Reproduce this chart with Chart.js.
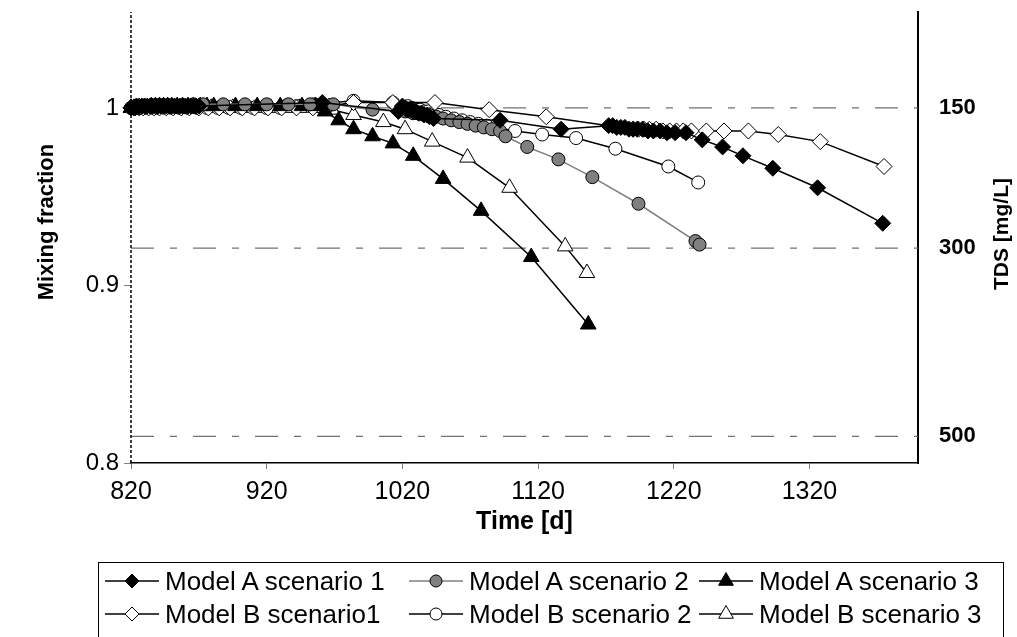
<!DOCTYPE html>
<html>
<head>
<meta charset="utf-8">
<script src="https://cdn.jsdelivr.net/npm/chart.js@4.4.1/dist/chart.umd.min.js"></script>
<style>
  body { margin: 0; background: #fff; }
  #wrap { position: relative; width: 1017px; height: 637px; overflow: hidden; }
  #legend { position: absolute; left: 98px; top: 562px; width: 906px; height: 100px;
            border: 1px solid #000; box-sizing: border-box;
            font-family: "Liberation Sans", Arial, sans-serif; font-size: 26px; color: #000; }
  .item { position: absolute; height: 30px; display: flex; align-items: center; white-space: nowrap; }
  .item svg { margin-right: 6px; }
</style>
</head>
<body>
<div id="wrap">
  <canvas id="chart" width="1017" height="637"></canvas>
  <div id="legend"></div>
</div>
<script>
// --- data ---
const xTickValues = [820, 920, 1020, 1120, 1220, 1320];
const yTickValues = [0.8, 0.9, 1];
const tdsLevels = [150, 300, 500];
const tdsFractions = [1.0, 0.921, 0.815];

const a1Days = [820, 822, 824, 826, 828, 830, 832, 834, 836, 838, 840, 842, 844, 846, 848, 850, 852, 854, 856, 858, 860, 862, 864, 866, 868, 870,
  961, 1017, 1020, 1022, 1024, 1026, 1028, 1030, 1032, 1034, 1036, 1038, 1040, 1043, 1092, 1137,
  1172, 1175, 1178, 1181, 1184, 1187, 1190, 1193, 1197, 1201, 1205, 1210, 1215, 1221, 1229, 1241, 1256, 1271, 1293, 1326, 1374];
const a1Mix = [1, 1, 1.001, 1.001, 1.001, 1.001, 1.001, 1.001, 1.001, 1.001, 1.001, 1.001, 1.001, 1.001, 1.001, 1.001, 1.001, 1.001, 1.001, 1.001, 1.001, 1.001, 1.001, 1.001, 1.001, 1.001,
  1.003, 0.998, 1.001, 1.000, 0.999, 0.999, 0.998, 0.998, 0.997, 0.997, 0.996, 0.996, 0.995, 0.994, 0.993, 0.988,
  0.990, 0.990, 0.989, 0.989, 0.989, 0.988, 0.988, 0.988, 0.988, 0.987, 0.987, 0.987, 0.986, 0.986, 0.986, 0.982, 0.978, 0.973, 0.966, 0.955, 0.935];

const a2Days = [820, 823, 826, 829, 832, 835, 838, 841, 844, 848, 852, 856, 860, 866, 873, 888, 904, 920, 936, 952, 969, 998,
  1022, 1025, 1028, 1031, 1034, 1037, 1040, 1045, 1050, 1056, 1062, 1068, 1074, 1080, 1086, 1092, 1096, 1112, 1135, 1160, 1194, 1236, 1239];
const a2Mix = [1, 1, 1, 1.001, 1.001, 1.001, 1.001, 1.001, 1.001, 1.001, 1.001, 1.001, 1.001, 1.002, 1.002, 1.002, 1.002, 1.002, 1.002, 1.002, 1.002, 0.999,
  0.998, 0.998, 0.997, 0.997, 0.997, 0.996, 0.996, 0.995, 0.994, 0.993, 0.992, 0.991, 0.990, 0.989, 0.988, 0.987, 0.984, 0.978, 0.971, 0.961, 0.946, 0.925, 0.923];

const a3Days = [820, 823, 826, 829, 832, 835, 838, 841, 844, 847, 850, 854, 858, 862, 866, 871, 876, 881, 897, 913, 930, 946, 956,
  963, 973, 984, 998, 1013, 1028, 1050, 1078, 1115, 1157];
const a3Mix = [1, 1, 1, 1, 1, 1.001, 1.001, 1.001, 1.001, 1.001, 1.001, 1.001, 1.001, 1.001, 1.001, 1.001, 1.001, 1.001, 1.001, 1.001, 1.001, 1.001, 1.001,
  0.998, 0.993, 0.988, 0.984, 0.980, 0.973, 0.960, 0.942, 0.916, 0.878];

const b1Days = [820, 823, 826, 829, 833, 837, 841, 846, 851, 857, 863, 870, 877, 885, 893, 902, 911, 921, 931, 942, 954, 966, 984, 1013,
  1044, 1084, 1126, 1190, 1194, 1198, 1202, 1207, 1212, 1217, 1222, 1227, 1233, 1244, 1257, 1275, 1297, 1328, 1375];
const b1Mix = [1, 1, 1, 1, 1, 1, 1, 1, 1, 1, 1, 1, 1, 1, 1, 1, 1, 1, 1, 1, 1, 1.001, 1.003, 1.003,
  1.003, 0.999, 0.995, 0.988, 0.988, 0.988, 0.988, 0.988, 0.987, 0.987, 0.987, 0.987, 0.987, 0.987, 0.987, 0.987, 0.985, 0.981, 0.967];

const b2Days = [820, 823, 826, 829, 832, 836, 840, 845, 850, 856, 862, 869, 876, 884, 892, 901, 910, 920, 930, 942, 955, 984, 1013,
  1024, 1027, 1030, 1033, 1036, 1039, 1042, 1047, 1052, 1058, 1064, 1070, 1076, 1082, 1103, 1123, 1148, 1177, 1216, 1238];
const b2Mix = [1, 1, 1, 1, 1, 1, 1, 1, 1, 1, 1, 1, 1, 1, 1, 1, 1, 1, 1, 1.001, 1.002, 1.004, 1.003,
  1.001, 1.000, 0.999, 0.999, 0.998, 0.998, 0.997, 0.996, 0.995, 0.994, 0.993, 0.992, 0.991, 0.990, 0.987, 0.985, 0.983, 0.977, 0.967, 0.958];

const b3Days = [820, 822, 825, 828, 831, 835, 839, 843, 848, 853, 859, 865, 872, 879, 887, 895, 904, 913, 923, 933, 944, 956, 968,
  984, 1006, 1022, 1042, 1068, 1099, 1140, 1156];
const b3Mix = [1, 1, 1, 1, 1, 1, 1, 1, 1, 1, 1, 1, 1, 1, 1, 1, 1, 1, 1, 1, 1, 1, 0.999,
  0.996, 0.992, 0.988, 0.981, 0.972, 0.955, 0.922, 0.907];

const seriesNames = ['Model A scenario 1', 'Model A scenario 2', 'Model A scenario 3',
                     'Model B scenario1', 'Model B scenario 2', 'Model B scenario 3'];

const FONT = '"Liberation Sans", Arial, sans-serif';
const X_MIN = 820, X_MAX = 1400, Y_MIN = 0.8, Y_MAX = 1.054;

function pts(days, mix) {
  return days.map((d, i) => ({ x: d, y: mix[i] }));
}

// marker look per series, same order as seriesNames
const looks = [
  { style: 'rectRot', r: 8, fill: '#000', line: '#000' },
  { style: 'circle', r: 6.5, fill: '#808080', line: '#808080' },
  { style: 'triangle', r: 9, fill: '#000', line: '#000' },
  { style: 'rectRot', r: 8, fill: '#fff', line: '#000' },
  { style: 'circle', r: 6.5, fill: '#fff', line: '#000' },
  { style: 'triangle', r: 9, fill: '#fff', line: '#000' }
];
const seriesData = [pts(a1Days, a1Mix), pts(a2Days, a2Mix), pts(a3Days, a3Mix),
                    pts(b1Days, b1Mix), pts(b2Days, b2Mix), pts(b3Days, b3Mix)];

const datasets = [];

// dash-dot TDS reference lines
tdsFractions.forEach(f => {
  datasets.push({
    data: [{ x: X_MIN, y: f }, { x: X_MAX, y: f }],
    borderColor: '#707070', borderWidth: 1.3, borderDash: [23, 16, 7, 16],
    pointRadius: 0, showLine: true, order: 20
  });
});

// dotted left axis line
datasets.push({
  data: [{ x: X_MIN, y: Y_MIN }, { x: X_MIN, y: Y_MAX }],
  borderColor: '#000', borderWidth: 1.5, borderDash: [3, 2],
  pointRadius: 0, showLine: true, clip: 4, order: -1
});

// Model A series end up on top of Model B, as in the picture
seriesData.forEach((data, i) => {
  const lk = looks[i];
  datasets.push({
    label: seriesNames[i],
    data: data,
    showLine: true,
    borderColor: lk.line,
    borderWidth: 1.5,
    pointStyle: lk.style,
    pointRadius: lk.r,
    pointBackgroundColor: lk.fill,
    pointBorderColor: '#000',
    pointBorderWidth: 1,
    clip: 10,
    order: i
  });
});

const axisTitles = {
  id: 'axisTitles',
  afterDraw(chart) {
    const ctx = chart.ctx;
    ctx.save();
    ctx.fillStyle = '#000';
    ctx.textAlign = 'center';
    ctx.textBaseline = 'middle';
    ctx.font = 'bold 22px ' + FONT;
    ctx.translate(47, 222);
    ctx.rotate(-Math.PI / 2);
    ctx.fillText('Mixing fraction', 0, 0);
    ctx.restore();

    ctx.save();
    ctx.fillStyle = '#000';
    ctx.textAlign = 'center';
    ctx.textBaseline = 'middle';
    ctx.font = 'bold 21px ' + FONT;
    ctx.translate(1002, 234);
    ctx.rotate(-Math.PI / 2);
    ctx.fillText('TDS [mg/L]', 0, 0);
    ctx.restore();
  }
};

// keep the plot box where the reference has it
function noPad(s) {
  s.paddingTop = 0; s.paddingBottom = 0; s.paddingLeft = 0; s.paddingRight = 0;
}

new Chart(document.getElementById('chart').getContext('2d'), {
  type: 'scatter',
  data: { datasets: datasets },
  plugins: [axisTitles],
  options: {
    responsive: false,
    animation: false,
    devicePixelRatio: 1,
    layout: { padding: { top: 12, left: 0, right: 0, bottom: 0 } },
    elements: { line: { tension: 0 } },
    plugins: { legend: { display: false }, tooltip: { enabled: false } },
    scales: {
      x: {
        type: 'linear', min: X_MIN, max: X_MAX,
        afterBuildTicks: s => { s.ticks = xTickValues.map(v => ({ value: v })); },
        afterFit: s => { s.height = 174; noPad(s); },
        border: { display: true, color: '#000', width: 1.5 },
        grid: { display: true, drawOnChartArea: false, drawTicks: true, tickLength: 6, color: '#808080' },
        ticks: { font: { family: FONT, size: 25 }, color: '#000', padding: 8, maxRotation: 0,
                 callback: v => String(v) },
        title: { display: true, text: 'Time [d]', color: '#000',
                 font: { family: FONT, size: 25, weight: 'bold' }, padding: { top: 0, bottom: 100 } }
      },
      y: {
        type: 'linear', position: 'left', min: Y_MIN, max: Y_MAX,
        afterBuildTicks: s => { s.ticks = yTickValues.map(v => ({ value: v })); },
        afterFit: s => { s.width = 131; noPad(s); },
        border: { display: false },
        grid: { display: true, drawOnChartArea: false, drawTicks: true, tickLength: 7, color: '#808080' },
        ticks: { font: { family: FONT, size: 24 }, color: '#000', padding: 5, callback: v => String(v) }
      },
      y2: {
        type: 'linear', position: 'right', min: Y_MIN, max: Y_MAX,
        afterBuildTicks: s => { s.ticks = tdsFractions.map(v => ({ value: v })); },
        afterFit: s => { s.width = 99; noPad(s); },
        border: { display: true, color: '#000', width: 2 },
        grid: { display: false },
        ticks: { font: { family: FONT, size: 22, weight: 'bold' }, color: '#000', padding: 13,
                 callback: (v, i) => String(tdsLevels[i]) }
      }
    }
  }
});

// legend with line + marker samples
const legend = document.getElementById('legend');
const colLeft = [6, 310, 600];
const rowTop = [3, 36];
seriesNames.forEach((name, i) => {
  const lk = looks[i];
  const cx = 27, cy = 15;
  let mark = '';
  if (lk.style === 'rectRot') {
    const r = 7;
    mark = `<polygon points="${cx},${cy - r} ${cx + r},${cy} ${cx},${cy + r} ${cx - r},${cy}" fill="${lk.fill}" stroke="#000" stroke-width="1"/>`;
  } else if (lk.style === 'circle') {
    mark = `<circle cx="${cx}" cy="${cy}" r="6" fill="${lk.fill}" stroke="#000" stroke-width="1"/>`;
  } else {
    const r = 8.5;
    mark = `<polygon points="${cx},${cy - r} ${cx + r * 0.866},${cy + r / 2} ${cx - r * 0.866},${cy + r / 2}" fill="${lk.fill}" stroke="#000" stroke-width="1"/>`;
  }
  const div = document.createElement('div');
  div.className = 'item';
  div.style.left = colLeft[i % 3] + 'px';
  div.style.top = rowTop[Math.floor(i / 3)] + 'px';
  div.innerHTML = `<svg width="54" height="30"><line x1="0" y1="${cy}" x2="54" y2="${cy}" stroke="${lk.line}" stroke-width="1.5"/>${mark}</svg><span>${name}</span>`;
  legend.appendChild(div);
});
</script>
</body>
</html>
